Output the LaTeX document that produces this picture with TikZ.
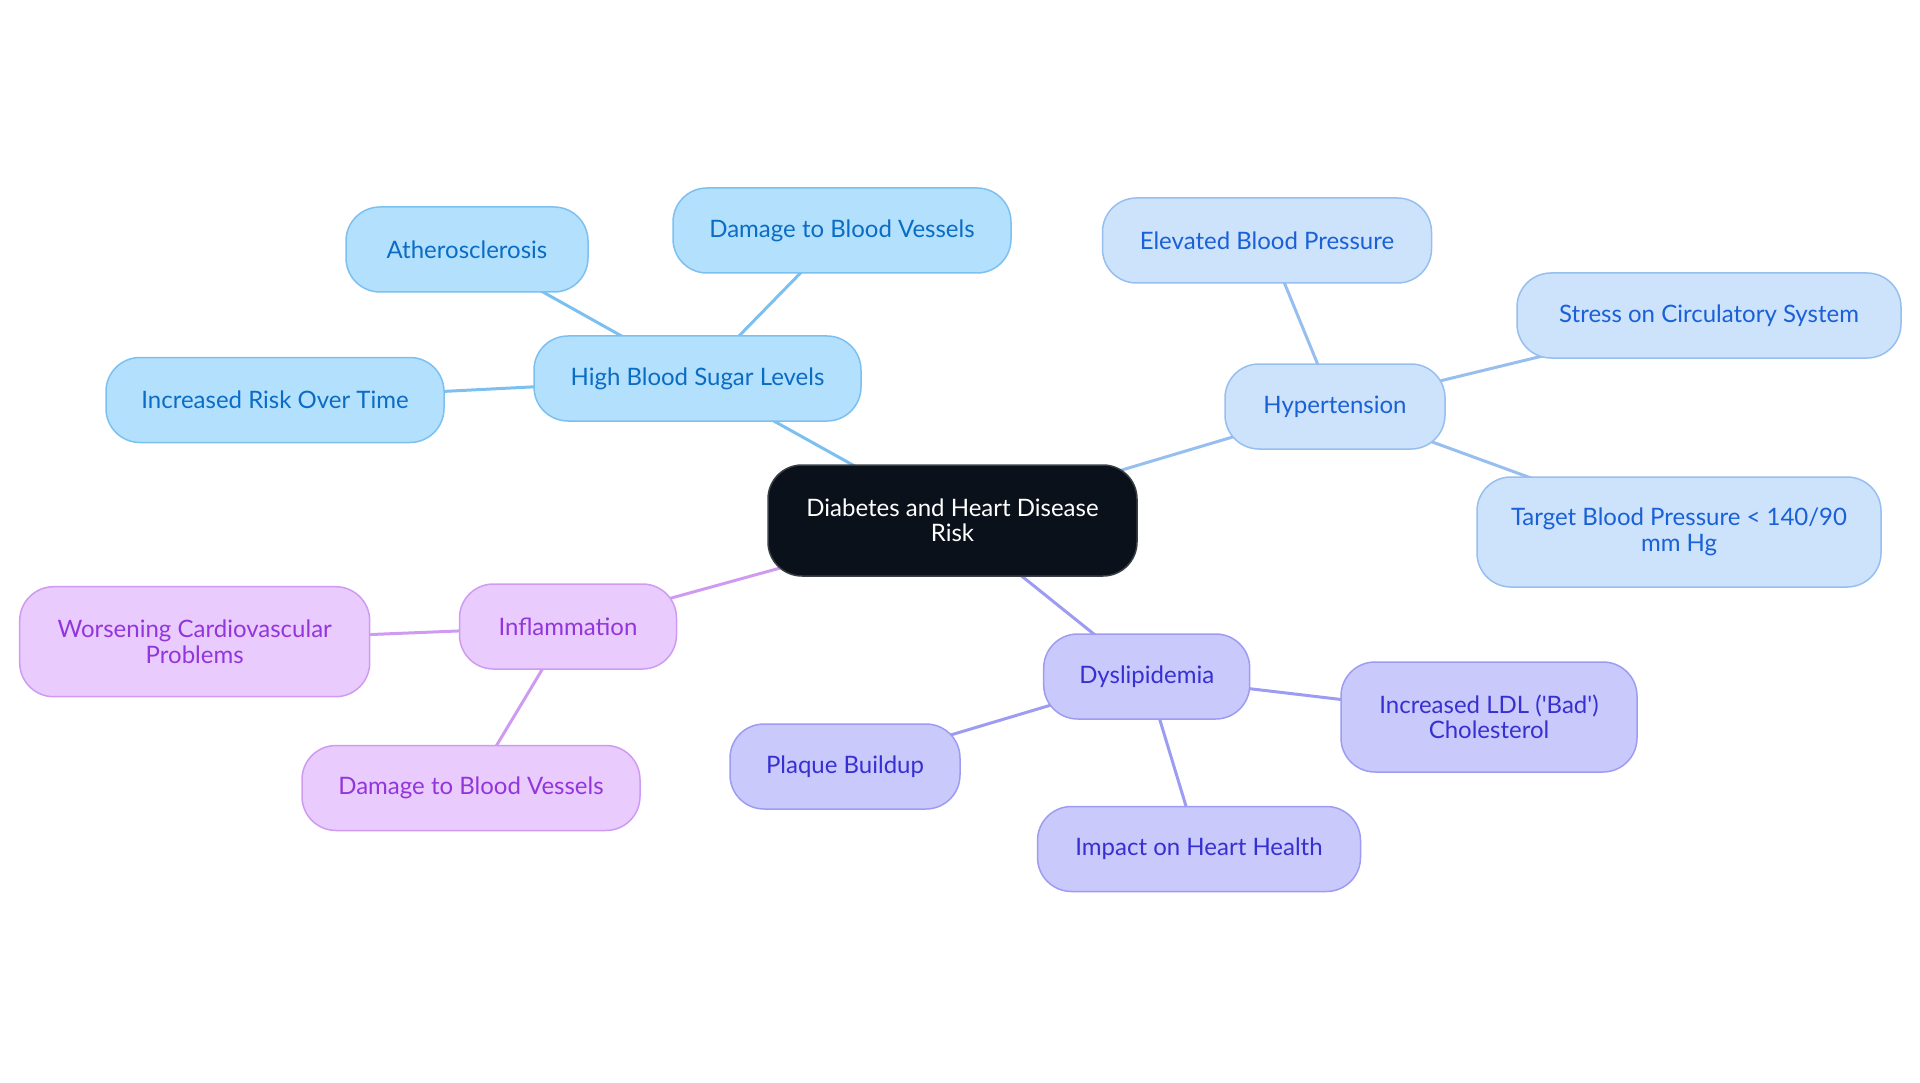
\documentclass[tikz,border=0pt]{standalone}
\usepackage{fontspec}
\setmainfont{Lato}[Ligatures=TeXOff]
\usetikzlibrary{backgrounds}
\definecolor{cfill}{HTML}{0B111A}
\definecolor{cbord}{HTML}{3A3F46}
\definecolor{afill}{HTML}{B3E0FD}
\definecolor{abord}{HTML}{7CC0F0}
\definecolor{atext}{HTML}{0B6CC4}
\definecolor{bfill}{HTML}{CCE3FB}
\definecolor{bbord}{HTML}{96BFEF}
\definecolor{btext}{HTML}{1A60D6}
\definecolor{dfill}{HTML}{C9C9FC}
\definecolor{dbord}{HTML}{9D9CF2}
\definecolor{dtext}{HTML}{3730D1}
\definecolor{ifill}{HTML}{E9CBFD}
\definecolor{ibord}{HTML}{CF9BF2}
\definecolor{itext}{HTML}{9236DB}
\tikzset{
  box/.style={rounded corners=34pt, line width=1.5pt, inner sep=0pt, align=center,
    font=\fontsize{24}{25.5}\selectfont},
  cbox/.style={box, fill=cfill, draw=cbord, text=white},
  abox/.style={box, fill=afill, draw=abord, text=atext},
  bbox/.style={box, fill=bfill, draw=bbord, text=btext},
  dbox/.style={box, fill=dfill, draw=dbord, text=dtext},
  ibox/.style={box, fill=ifill, draw=ibord, text=itext},
  sz/.style 2 args={minimum width=#1pt, minimum height=#2pt},
  aline/.style={draw=abord, line width=3pt},
  bline/.style={draw=bbord, line width=3pt},
  dline/.style={draw=dbord, line width=3pt},
  iline/.style={draw=ibord, line width=3pt},
}
\begin{document}
\begin{tikzpicture}[x=1pt,y=-1pt]
\useasboundingbox (0,0) rectangle (1920,1083);
\node[cbox, sz={369}{111}] (center) at (952.5,520.5) {Diabetes and Heart Disease\\Risk};
\node[abox, sz={327}{85}] (hbs) at (697.5,378.5) {High Blood Sugar Levels};
\node[abox, sz={242}{85}] (ath) at (467,249.5) {Atherosclerosis};
\node[abox, sz={338}{85}] (dbv1) at (842,230.5) {Damage to Blood Vessels};
\node[abox, sz={338}{85}] (irt) at (275,400) {Increased Risk Over Time};
\node[bbox, sz={220}{85}] (hyp) at (1335,406.5) {Hypertension};
\node[bbox, sz={329}{85}] (ebp) at (1267,240.5) {Elevated Blood Pressure};
\node[bbox, sz={384}{85}] (stress) at (1709,315.5) {Stress on Circulatory System};
\node[bbox, sz={404}{110}] (target) at (1679,532) {Target Blood Pressure < 140/90\\mm Hg};
\node[ibox, sz={217}{85}] (infl) at (568,626.5) {Inflammation};
\node[ibox, sz={350}{110}] (worse) at (194.7,641.7) {Worsening Cardiovascular\\Problems};
\node[ibox, sz={338}{85}] (dbv2) at (471,788) {Damage to Blood Vessels};
\node[dbox, sz={206}{85}] (dys) at (1146.7,676.5) {Dyslipidemia};
\node[dbox, sz={296}{110}] (ldl) at (1489,717) {Increased LDL ('Bad')\\Cholesterol};
\node[dbox, sz={230}{85}] (plaque) at (845,766.5) {Plaque Buildup};
\node[dbox, sz={323}{85}] (impact) at (1199,849) {Impact on Heart Health};
\begin{scope}[on background layer]
\path[aline] (center.center) -- (hbs.center);
\path[aline] (hbs.center) -- (ath.center);
\path[aline] (hbs.center) -- (dbv1.center);
\path[aline] (hbs.center) -- (irt.center);
\path[bline] (center.center) -- (hyp.center);
\path[bline] (hyp.center) -- (ebp.center);
\path[bline] (hyp.center) -- (stress.center);
\path[bline] (hyp.center) -- (target.center);
\path[iline] (center.center) -- (infl.center);
\path[iline] (infl.center) -- (worse.center);
\path[iline] (infl.center) -- (dbv2.center);
\path[dline] (center.center) -- (dys.center);
\path[dline] (dys.center) -- (ldl.center);
\path[dline] (dys.center) -- (plaque.center);
\path[dline] (dys.center) -- (impact.center);
\end{scope}
\end{tikzpicture}
\end{document}
